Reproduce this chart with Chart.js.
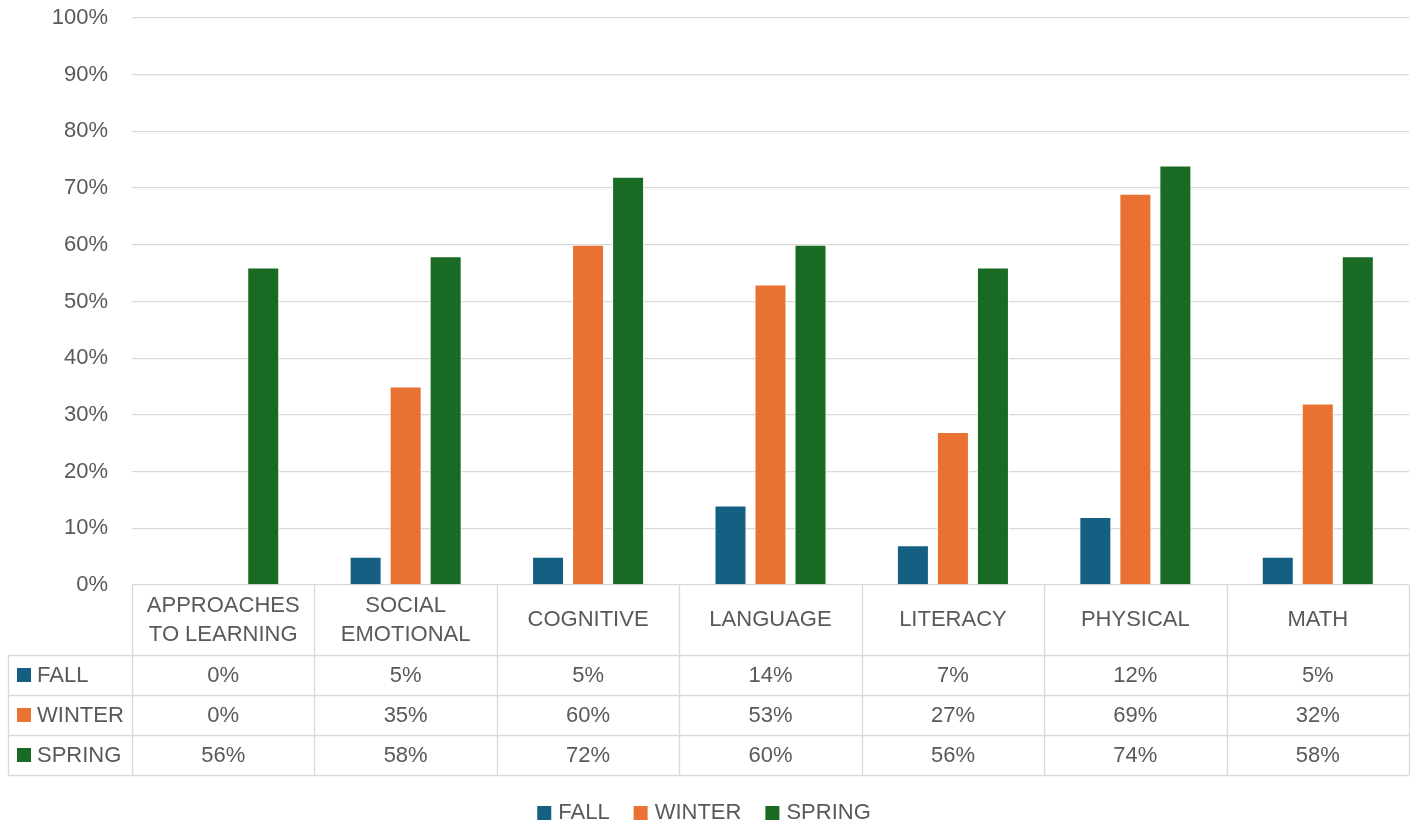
<!DOCTYPE html>
<html>
<head>
<meta charset="utf-8">
<script src="https://cdn.jsdelivr.net/npm/chart.js@4.4.1/dist/chart.umd.min.js"></script>
<style>
  html, body { margin: 0; padding: 0; background: #ffffff; }
  #wrap { width: 1418px; height: 829px; }
</style>
</head>
<body>
<div id="wrap"><canvas id="chart" width="1418" height="829"></canvas></div>
<script>
// Domains assessed each season
const categories = [
  ['APPROACHES', 'TO LEARNING'],
  ['SOCIAL', 'EMOTIONAL'],
  ['COGNITIVE'],
  ['LANGUAGE'],
  ['LITERACY'],
  ['PHYSICAL'],
  ['MATH']
];

// Share of children meeting expectations, in percent
const seasons = ['FALL', 'WINTER', 'SPRING'];
const fallValues   = [0, 5, 5, 14, 7, 12, 5];
const winterValues = [0, 35, 60, 53, 27, 69, 32];
const springValues = [56, 58, 72, 60, 56, 74, 58];
const seasonColors = ['#156082', '#E97132', '#196B24'];

const FONT = '"Liberation Sans", Arial, sans-serif';
const TEXT = '#595959';
const LINE = '#d9d9d9';

// Draws the data table under the plot and the legend at the bottom
const tablePlugin = {
  id: 'dataTable',
  afterDraw(chart) {
    const ctx = chart.ctx;
    const x = chart.scales.x;
    const area = chart.chartArea;
    const n = categories.length;
    const step = (area.right - area.left) / n;
    const top = area.bottom;
    const headerH = 70;
    const rowH = 40;
    const tableLeft = 8;
    const bottom = top + headerH + rowH * seasons.length;

    ctx.save();
    ctx.strokeStyle = LINE;
    ctx.lineWidth = 1.3;

    // horizontal rules
    ctx.beginPath();
    for (let r = 0; r <= seasons.length; r++) {
      const y = Math.round(top + headerH + r * rowH) + 0.5;
      ctx.moveTo(tableLeft, y);
      ctx.lineTo(area.right, y);
    }
    // vertical rules at category boundaries
    for (let i = 0; i <= n; i++) {
      const vx = Math.round(area.left + i * step) + 0.5;
      ctx.moveTo(vx, top);
      ctx.lineTo(vx, bottom);
    }
    const lx = tableLeft + 0.5;
    ctx.moveTo(lx, top + headerH);
    ctx.lineTo(lx, bottom);
    ctx.stroke();

    // header labels
    ctx.fillStyle = TEXT;
    ctx.font = '22px ' + FONT;
    ctx.textAlign = 'center';
    ctx.textBaseline = 'middle';
    const lineGap = 29;
    categories.forEach((lines, i) => {
      const cx = x.getPixelForValue(i);
      const cy = top + headerH / 2;
      const start = cy - (lines.length - 1) * lineGap / 2;
      lines.forEach((t, k) => ctx.fillText(t, cx, start + k * lineGap));
    });

    // data rows
    chart.data.datasets.forEach((ds, r) => {
      const cy = top + headerH + r * rowH + rowH / 2;
      ctx.fillStyle = ds.backgroundColor;
      ctx.fillRect(17, cy - 7, 14, 14);
      ctx.fillStyle = TEXT;
      ctx.textAlign = 'left';
      ctx.fillText(ds.label, 37, cy + 1);
      ctx.textAlign = 'center';
      ds.data.forEach((v, i) => {
        ctx.fillText(v + '%', x.getPixelForValue(i), cy + 1);
      });
    });

    // legend
    const box = 14, gapBox = 7, gapItem = 24;
    const widths = chart.data.datasets.map(ds => box + gapBox + ctx.measureText(ds.label).width);
    const total = widths.reduce((a, b) => a + b, 0) + gapItem * (widths.length - 1);
    let lxp = chart.width / 2 - 5 - total / 2;
    const ly = 813;
    ctx.textAlign = 'left';
    chart.data.datasets.forEach((ds, i) => {
      ctx.fillStyle = ds.backgroundColor;
      ctx.fillRect(lxp, ly - 7, box, box);
      ctx.fillStyle = TEXT;
      ctx.fillText(ds.label, lxp + box + gapBox, ly);
      lxp += widths[i] + gapItem;
    });
    ctx.restore();
  }
};

const seriesValues = [fallValues, winterValues, springValues];

new Chart(document.getElementById('chart'), {
  type: 'bar',
  data: {
    labels: categories,
    datasets: seasons.map((s, i) => ({
      label: s,
      data: seriesValues[i],
      backgroundColor: seasonColors[i],
      borderColor: '#ffffff',
      borderWidth: 1,
      categoryPercentage: 0.658,
      barPercentage: 0.8
    }))
  },
  options: {
    responsive: false,
    animation: false,
    layout: { padding: { top: 18, right: 9, bottom: 54, left: 0 } },
    plugins: {
      legend: { display: false },
      tooltip: { enabled: false }
    },
    scales: {
      x: {
        grid: { display: false },
        border: { display: false },
        ticks: { display: false },
        afterFit(scale) {
          scale.height = 190;
          scale.paddingLeft = 0;
          scale.paddingRight = 0;
        }
      },
      y: {
        min: 0,
        max: 100,
        ticks: {
          stepSize: 10,
          padding: 24,
          color: TEXT,
          font: { family: FONT, size: 22 },
          callback: v => v + '%'
        },
        grid: { color: LINE, lineWidth: 1.3, drawTicks: false },
        border: { display: false },
        afterFit(scale) {
          scale.width = 132;
          scale.paddingTop = 0;
          scale.paddingBottom = 0;
        }
      }
    }
  },
  plugins: [tablePlugin]
});
</script>
</body>
</html>
